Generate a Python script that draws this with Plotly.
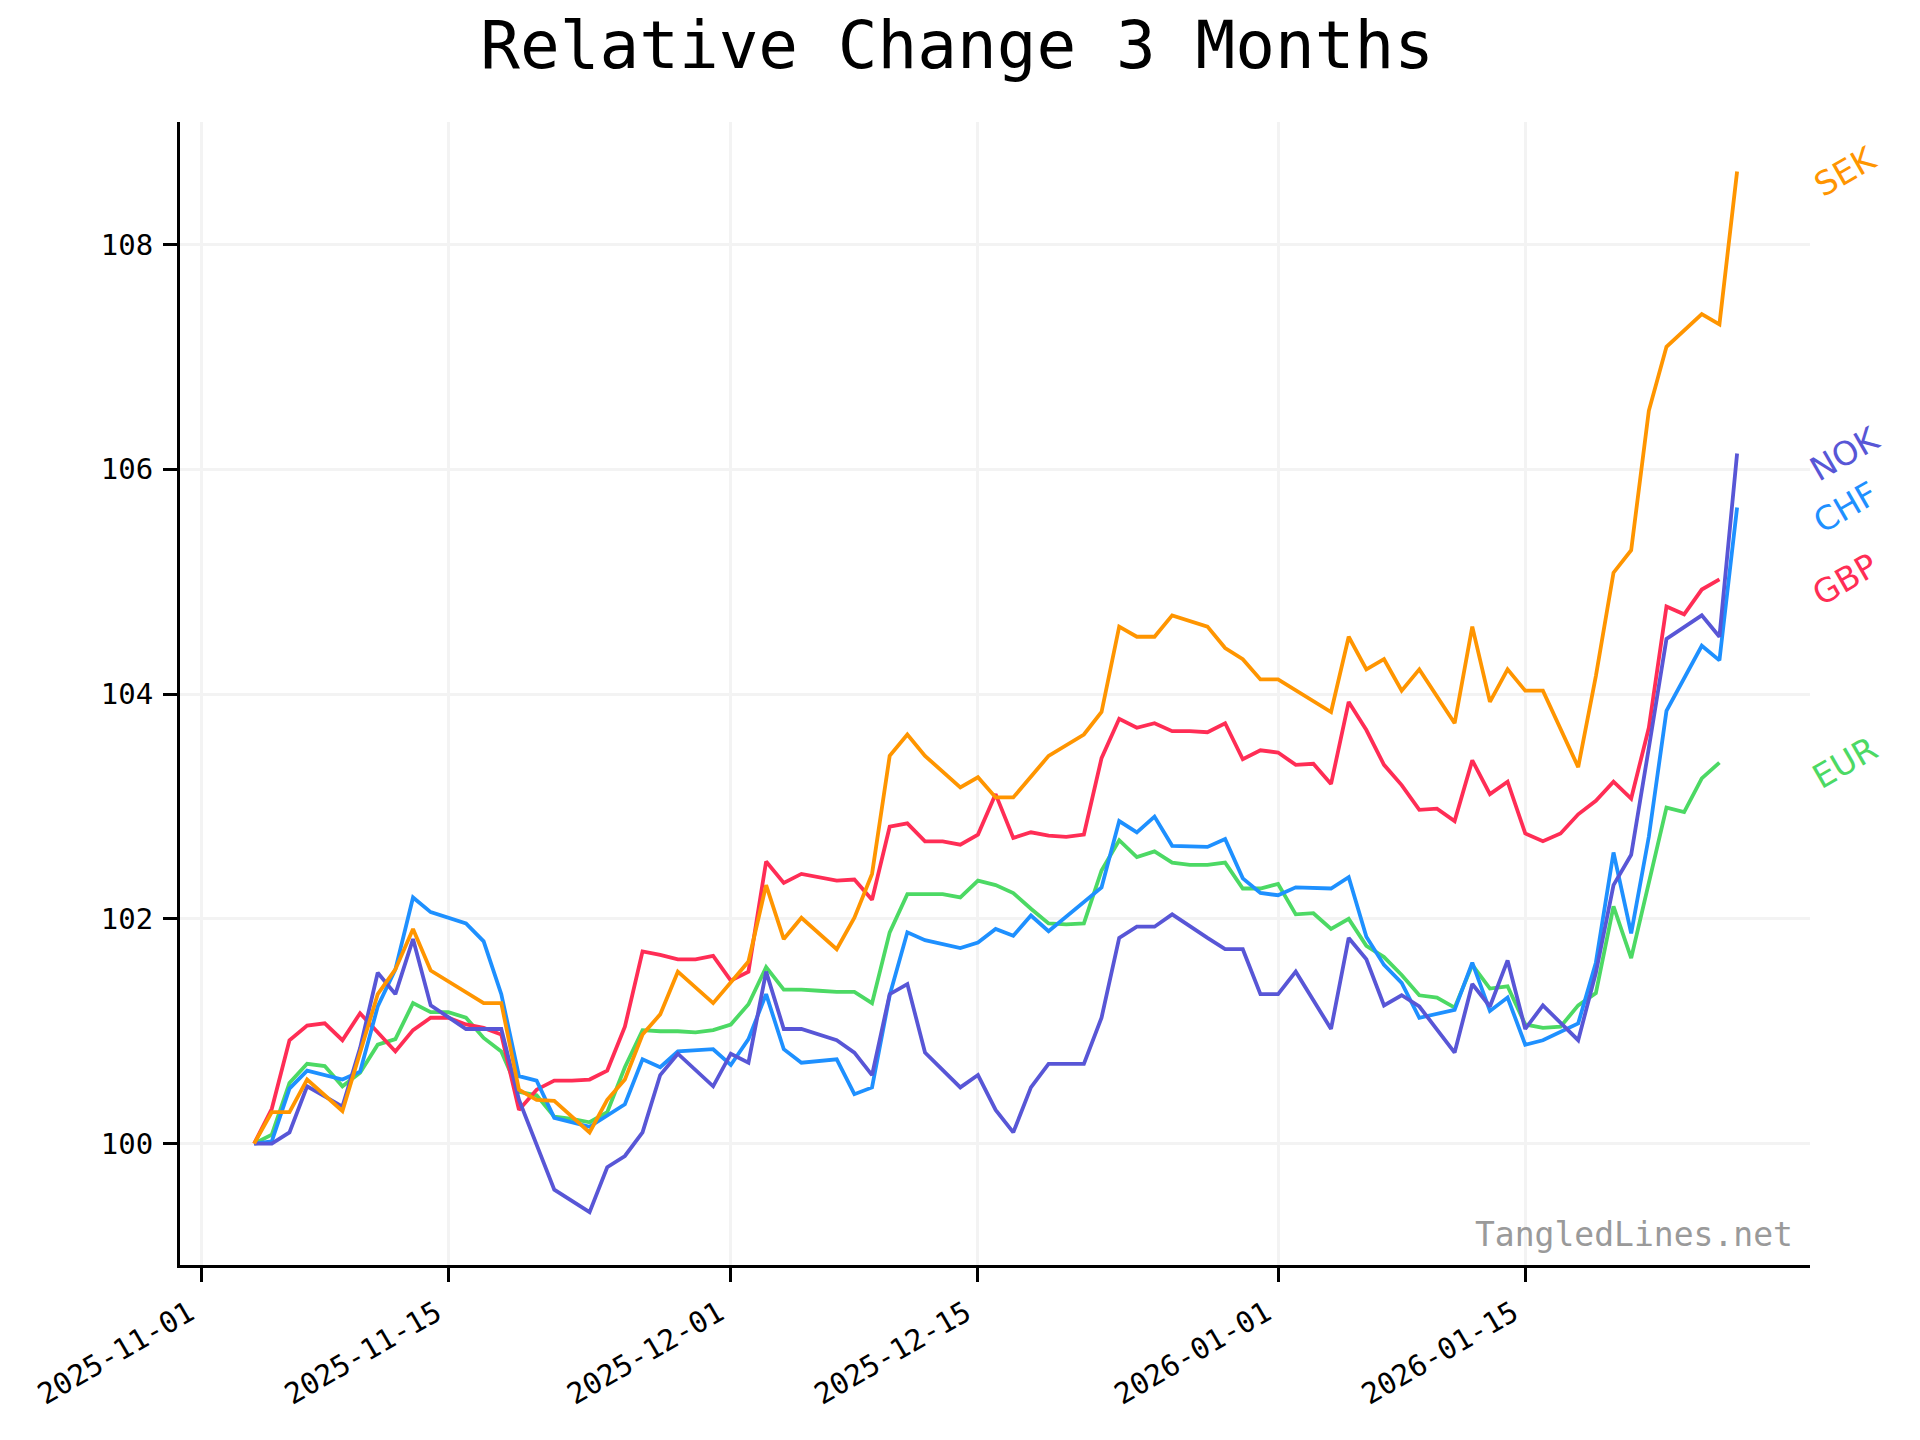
import pandas as pd
import plotly.graph_objects as go

# Dates 2025-11-04 .. 2026-01-27 (daily)
dates = pd.date_range("2025-11-04", "2026-01-27", freq="D")

N = None
GBP = [100.00, 100.31, 100.92, 101.05, 101.07, 100.92, 101.16,
       100.99, 100.82, 101.01, 101.12, 101.12, 101.06, 101.03,
       100.97, 100.30, 100.48, 100.56, 100.56, 100.57, 100.65,
       101.04, 101.71, 101.68, 101.64, 101.64, 101.67, 101.45,
       101.53, 102.51, 102.32, 102.40, 102.37, 102.34, 102.35,
       102.17, 102.82, 102.85, 102.69, 102.69, 102.66, 102.75,
       103.11, 102.72, 102.77, 102.74, 102.73, 102.75, 103.43,
       103.78, 103.70, 103.74, 103.67, 103.67, 103.66, 103.74,
       103.42, 103.50, 103.48, 103.37, 103.38, 103.20, 103.93,
       103.68, 103.37, 103.19, 102.97, 102.98, 102.87, 103.41,
       103.11, 103.22, 102.76, 102.69, 102.76, 102.93, 103.05,
       103.22, 103.07, 103.70, 104.78, 104.71, 104.93, 105.02,
       N]

EUR = [100.00, 100.08, 100.54, 100.71, 100.69, 100.51, 100.63,
       100.88, 100.93, 101.25, 101.17, 101.17, 101.12, 100.94,
       100.82, 100.46, 100.43, 100.24, 100.22, 100.19, 100.28,
       100.68, 101.01, 101.00, 101.00, 100.99, 101.01, 101.06,
       101.24, 101.57, 101.37, 101.37, 101.36, 101.35, 101.35,
       101.25, 101.88, 102.22, 102.22, 102.22, 102.19, 102.34,
       102.30, 102.23, 102.09, 101.96, 101.95, 101.96, 102.43,
       102.70, 102.55, 102.60, 102.50, 102.48, 102.48, 102.50,
       102.27, 102.27, 102.31, 102.04, 102.05, 101.91, 102.00,
       101.76, 101.66, 101.50, 101.32, 101.30, 101.21, 101.59,
       101.38, 101.40, 101.06, 101.03, 101.04, 101.23, 101.34,
       102.11, 101.65, 102.32, 102.99, 102.95, 103.25, 103.39,
       N]

CHF = [100.00, 100.02, 100.49, 100.65, N, 100.57, 100.64,
       101.22, 101.55, 102.19, 102.06, N, 101.96, 101.80,
       101.33, 100.60, 100.56, 100.23, N, 100.15, 100.25,
       100.35, 100.75, 100.68, 100.82, N, 100.84, 100.70,
       100.93, 101.33, 100.84, 100.72, N, 100.75, 100.44,
       100.50, 101.32, 101.88, 101.81, N, 101.74, 101.79,
       101.91, 101.85, 102.03, 101.89, N, 102.15, 102.28,
       102.87, 102.77, 102.91, 102.65, N, 102.64, 102.71,
       102.36, 102.23, 102.21, 102.28, N, 102.27, 102.37,
       101.84, 101.59, 101.43, 101.12, N, 101.19, 101.61,
       101.18, 101.30, 100.88, 100.92, N, 101.07, 101.61,
       102.59, 101.87, 102.73, 103.85, N, 104.43, 104.30,
       105.66]

NOK = [100.00, 100.00, 100.10, 100.51, N, 100.33, 100.85,
       101.52, 101.33, 101.82, 101.23, N, 101.02, 101.02,
       101.02, 100.39, 99.99, 99.59, N, 99.39, 99.79,
       99.89, 100.10, 100.61, 100.80, N, 100.51, 100.80,
       100.72, 101.53, 101.02, 101.02, N, 100.92, 100.81,
       100.61, 101.33, 101.42, 100.81, N, 100.50, 100.61,
       100.30, 100.10, 100.50, 100.71, N, 100.71, 101.12,
       101.83, 101.93, 101.93, 102.04, N, 101.83, 101.73,
       101.73, 101.33, 101.33, 101.53, N, 101.02, 101.83,
       101.64, 101.23, 101.32, 101.22, N, 100.81, 101.42,
       101.22, 101.63, 101.02, 101.23, N, 100.92, 101.52,
       102.30, 102.57, 103.52, 104.49, N, 104.70, 104.51,
       106.14]

SEK = [100.00, 100.28, 100.28, 100.57, N, 100.29, 100.80,
       101.33, 101.55, 101.91, 101.54, N, 101.35, 101.25,
       101.25, 100.48, 100.39, 100.38, N, 100.10, 100.39,
       100.57, 100.97, 101.15, 101.53, N, 101.25, 101.44,
       101.62, 102.30, 101.82, 102.01, N, 101.73, 102.01,
       102.40, 103.45, 103.64, 103.45, N, 103.17, 103.26,
       103.08, 103.08, 103.26, 103.45, N, 103.64, 103.84,
       104.60, 104.51, 104.51, 104.70, N, 104.60, 104.41,
       104.31, 104.13, 104.13, 104.03, N, 103.84, 104.51,
       104.22, 104.31, 104.03, 104.22, N, 103.74, 104.60,
       103.93, 104.22, 104.03, 104.03, N, 103.35, 104.16,
       105.08, 105.28, 106.52, 107.09, N, 107.38, 107.29,
       108.65]

series_names = ["EUR", "GBP", "CHF", "NOK", "SEK"]
series_values = [EUR, GBP, CHF, NOK, SEK]
series_colors = ["#4CD964", "#FF2D55", "#1E90FF", "#5856D6", "#FF9500"]

x_tick_vals = ["2025-11-01", "2025-11-15", "2025-12-01", "2025-12-15", "2026-01-01", "2026-01-15"]
x_tick_text = ["2025-11-01", "2025-11-15", "2025-12-01", "2025-12-15", "2026-01-01", "2026-01-15"]
y_tick_vals = [100, 102, 104, 106, 108]
y_tick_text = ["100", "102", "104", "106", "108"]

MONO = "DejaVu Sans Mono"

fig = go.Figure()
for name, vals, col in zip(series_names, series_values, series_colors):
    fig.add_trace(go.Scatter(x=dates, y=vals, mode="lines", name=name,
                             connectgaps=True,
                             line=dict(color=col, width=3.8)))

annotations = []
for name, vals, col in zip(series_names, series_values, series_colors):
    last = [v for v in vals if v is not None][-1]
    annotations.append(dict(x=1.0215, xref="paper", y=last, yref="y",
                            text=name, showarrow=False, textangle=-30,
                            xanchor="center", yanchor="middle",
                            font=dict(family="DejaVu Sans", size=33, color=col)))
annotations.append(dict(x=0.9905, xref="paper", y=0.027, yref="paper",
                        text="TangledLines.net", showarrow=False,
                        xanchor="right", yanchor="middle",
                        font=dict(family=MONO, size=33, color="#9a9a9a")))

axis_common = dict(showline=True, linecolor="black", linewidth=3,
                   ticks="outside", ticklen=14, tickwidth=3, tickcolor="black",
                   showgrid=True, gridcolor="#f3f3f3", gridwidth=3,
                   zeroline=False, mirror=False,
                   tickfont=dict(family=MONO, size=29, color="black"))

fig.update_layout(
    width=1920, height=1440,
    margin=dict(l=172, r=118, t=114, b=183),
    paper_bgcolor="white", plot_bgcolor="white",
    showlegend=False,
    title=dict(text="Relative Change 3 Months", x=0.4943, xref="container",
               y=0.9745, yref="container", xanchor="center", yanchor="middle",
               font=dict(family=MONO, size=66, color="black")),
    xaxis=dict(type="date", range=["2025-10-30 19:12", "2026-01-31 03:07"],
               tickmode="array", tickvals=x_tick_vals, ticktext=x_tick_text,
               tickangle=-30, ticklabelstandoff=3, ticklabelshift=-12,
               **axis_common),
    yaxis=dict(range=[98.92, 109.09], tickmode="array",
               tickvals=y_tick_vals, ticktext=y_tick_text,
               ticklabelstandoff=4, **axis_common),
    annotations=annotations,
)

fig.write_html("out.html")
